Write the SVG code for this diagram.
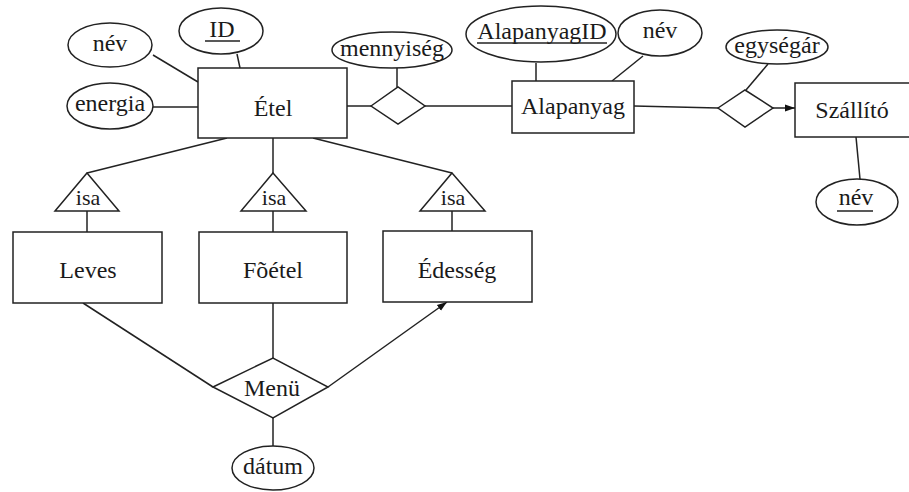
<svg xmlns="http://www.w3.org/2000/svg" width="909" height="492" viewBox="0 0 909 492">
<defs>
<style>
.s{fill:#fff;stroke:#222;stroke-width:1.5}
.l{fill:none;stroke:#222;stroke-width:1.5}
text{font-family:"Liberation Serif","Times New Roman",serif;font-size:24px;fill:#1a1a1a;text-anchor:middle}
.u{stroke:#222;stroke-width:1.5}
</style>
<marker id="ah" viewBox="0 0 10 10" refX="10" refY="5" markerWidth="10" markerHeight="10" markerUnits="userSpaceOnUse" orient="auto">
<path d="M0,1.5 L10,5 L0,8.5 z" fill="#111"/>
</marker>
</defs>
<rect width="909" height="492" fill="#fff"/>
<g id="connectors">
<line class="l" x1="153" y1="55" x2="198" y2="82"/>
<line class="l" x1="237" y1="54" x2="240" y2="68"/>
<line class="l" x1="153" y1="107" x2="198" y2="107"/>
<line class="l" x1="347" y1="106" x2="371" y2="106"/>
<line class="l" x1="397" y1="68" x2="397" y2="87"/>
<line class="l" x1="425" y1="106" x2="512" y2="106"/>
<line class="l" x1="536" y1="63" x2="536" y2="81"/>
<line class="l" x1="643" y1="56" x2="612" y2="81"/>
<line class="l" x1="634" y1="106" x2="718" y2="108"/>
<line class="l" x1="768" y1="64" x2="746" y2="90"/>
<line class="l" x1="773" y1="108" x2="795" y2="108" marker-end="url(#ah)"/>
<line class="l" x1="856" y1="137" x2="860" y2="179"/>
<line class="l" x1="227" y1="138" x2="87" y2="173"/>
<line class="l" x1="273" y1="138" x2="273" y2="173"/>
<line class="l" x1="313" y1="138" x2="452" y2="173"/>
<line class="l" x1="87" y1="211" x2="87" y2="232"/>
<line class="l" x1="273" y1="211" x2="273" y2="232"/>
<line class="l" x1="452" y1="211" x2="452" y2="231"/>
<line class="l" x1="83" y1="303" x2="213" y2="387"/>
<line class="l" x1="273" y1="303" x2="273" y2="358"/>
<line class="l" x1="328" y1="387" x2="447" y2="302" marker-end="url(#ah)"/>
<line class="l" x1="273" y1="418" x2="273" y2="446"/>
</g>
<g id="nev1"><ellipse class="s" cx="110" cy="45" rx="42" ry="22"/><text x="110" y="51">név</text></g>
<g id="id"><ellipse class="s" cx="221" cy="31" rx="42" ry="23"/><text x="222" y="37">ID</text><line class="u" x1="205" y1="41" x2="240" y2="41"/></g>
<g id="energia"><ellipse class="s" cx="110" cy="106" rx="43" ry="23"/><text x="110" y="111">energia</text></g>
<g id="etel"><rect class="s" x="198" y="68" width="149" height="70"/><text x="273" y="116">Étel</text></g>
<g id="mennyiseg"><ellipse class="s" cx="392" cy="50" rx="60" ry="18"/><text x="392" y="56">mennyiség</text></g>
<g id="rel1"><polygon class="s" points="371,106 398,87 425,106 398,124"/></g>
<g id="alapanyagid"><ellipse class="s" cx="541" cy="34" rx="75" ry="28"/><text x="542" y="39">AlapanyagID</text><line class="u" x1="477" y1="43" x2="607" y2="43"/></g>
<g id="nev2"><ellipse class="s" cx="660" cy="33" rx="42" ry="23"/><text x="660" y="38">név</text></g>
<g id="alapanyag"><rect class="s" x="512" y="81" width="122" height="52"/><text x="573" y="114">Alapanyag</text></g>
<g id="egysegar"><ellipse class="s" cx="777" cy="47" rx="51" ry="17"/><text x="777" y="53">egységár</text></g>
<g id="rel2"><polygon class="s" points="718,108 745,90 773,108 745,127"/></g>
<g id="szallito"><rect class="s" x="795" y="83" width="118" height="54"/><text x="852" y="118">Szállító</text></g>
<g id="nev3"><ellipse class="s" cx="857" cy="202" rx="41" ry="23"/><text x="856" y="205">név</text><line class="u" x1="837" y1="211" x2="873" y2="211"/></g>
<g id="isa1"><polygon class="s" points="87,173 119,211 55,211"/><text x="88" y="205" style="font-size:22px">isa</text></g>
<g id="isa2"><polygon class="s" points="273,173 306,211 241,211"/><text x="274" y="205" style="font-size:22px">isa</text></g>
<g id="isa3"><polygon class="s" points="452,173 485,211 420,211"/><text x="453" y="205" style="font-size:22px">isa</text></g>
<g id="leves"><rect class="s" x="13" y="232" width="149" height="71"/><text x="88" y="278">Leves</text></g>
<g id="foetel"><rect class="s" x="199" y="232" width="148" height="71"/><text x="273" y="278">Fõétel</text></g>
<g id="edesseg"><rect class="s" x="383" y="231" width="149" height="71"/><text x="457" y="278">Édesség</text></g>
<g id="menu"><polygon class="s" points="213,387 273,358 328,387 273,418"/><text x="272" y="396">Menü</text></g>
<g id="datum"><ellipse class="s" cx="273" cy="468" rx="41" ry="22"/><text x="273" y="474">dátum</text></g>
</svg>
